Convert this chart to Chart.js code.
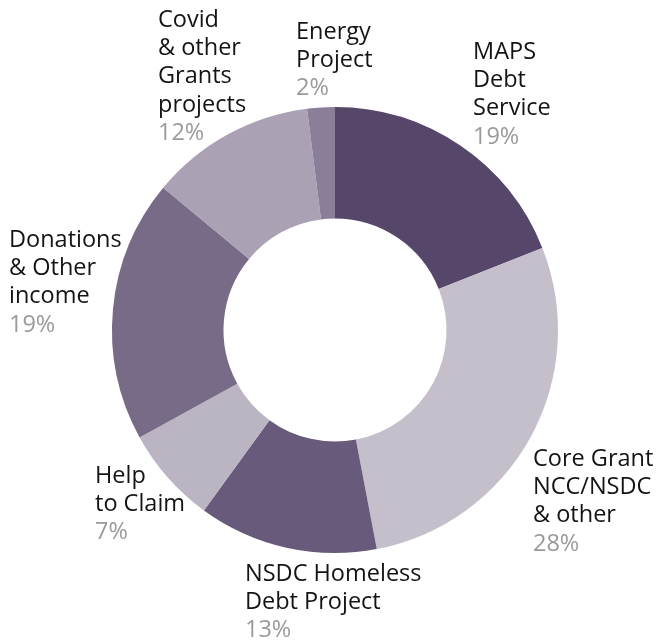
<!DOCTYPE html>
<html>
<head>
<meta charset="utf-8">
<script src="https://cdn.jsdelivr.net/npm/chart.js@4"></script>
<style>
  html, body { margin: 0; padding: 0; background: #fff; }
  canvas { display: block; }
</style>
</head>
<body>
<canvas id="donut" width="658" height="641"></canvas>
<script>
// ---- data ----
const categories = [
    ['MAPS', 'Debt', 'Service'],
    ['Core Grant', 'NCC/NSDC', '& other'],
    ['NSDC Homeless', 'Debt Project'],
    ['Help', 'to Claim'],
    ['Donations', '& Other', 'income'],
    ['Covid', '& other', 'Grants', 'projects'],
    ['Energy', 'Project']
];
const shares = [19, 28, 13, 7, 19, 12, 2]; // percent

// ---- styling / layout ----
const sliceColors = ['#56476a', '#c4bfcb', '#675a7b', '#bab4c3', '#786b88', '#aaa1b5', '#8a7e99'];
// label block offset (first line centre) from the donut centre
const labelOffsets = [
    [138, -278], [198, 129], [-90, 244], [-240, 146],
    [-326, -90], [-177, -310], [-39, -298]
];
const fontSize = 23.5;
const lineHeight = 28.3;

// draw the text labels next to the slices
const labelPlugin = {
    id: 'sliceLabels',
    afterDraw(chart) {
        const ctx = chart.ctx;
        const arcs = chart.getDatasetMeta(0).data;
        const cx = arcs[0].x, cy = arcs[0].y;
        ctx.save();
        ctx.font = fontSize + 'px "Open Sans"';
        ctx.textAlign = 'left';
        ctx.textBaseline = 'middle';
        categories.forEach((lines, i) => {
            const x = cx + labelOffsets[i][0];
            let y = cy + labelOffsets[i][1];
            ctx.fillStyle = '#141414';
            lines.forEach(line => {
                ctx.fillText(line, x, y);
                y += lineHeight;
            });
            ctx.fillStyle = '#9a9a9a';
            ctx.fillText(shares[i] + '%', x, y);
        });
        ctx.restore();
    }
};

const ctx = document.getElementById('donut').getContext('2d');
const chart = new Chart(ctx, {
    type: 'doughnut',
    data: {
        labels: categories.map(c => c.join(' ')),
        datasets: [{
            data: shares,
            backgroundColor: sliceColors,
            borderWidth: 0
        }]
    },
    options: {
        responsive: false,
        animation: false,
        cutout: '50%',
        layout: {
            padding: { left: 112, right: 100, top: 107, bottom: 88 }
        },
        plugins: {
            legend: { display: false },
            tooltip: { enabled: false }
        }
    },
    plugins: [labelPlugin]
});
</script>
</body>
</html>
